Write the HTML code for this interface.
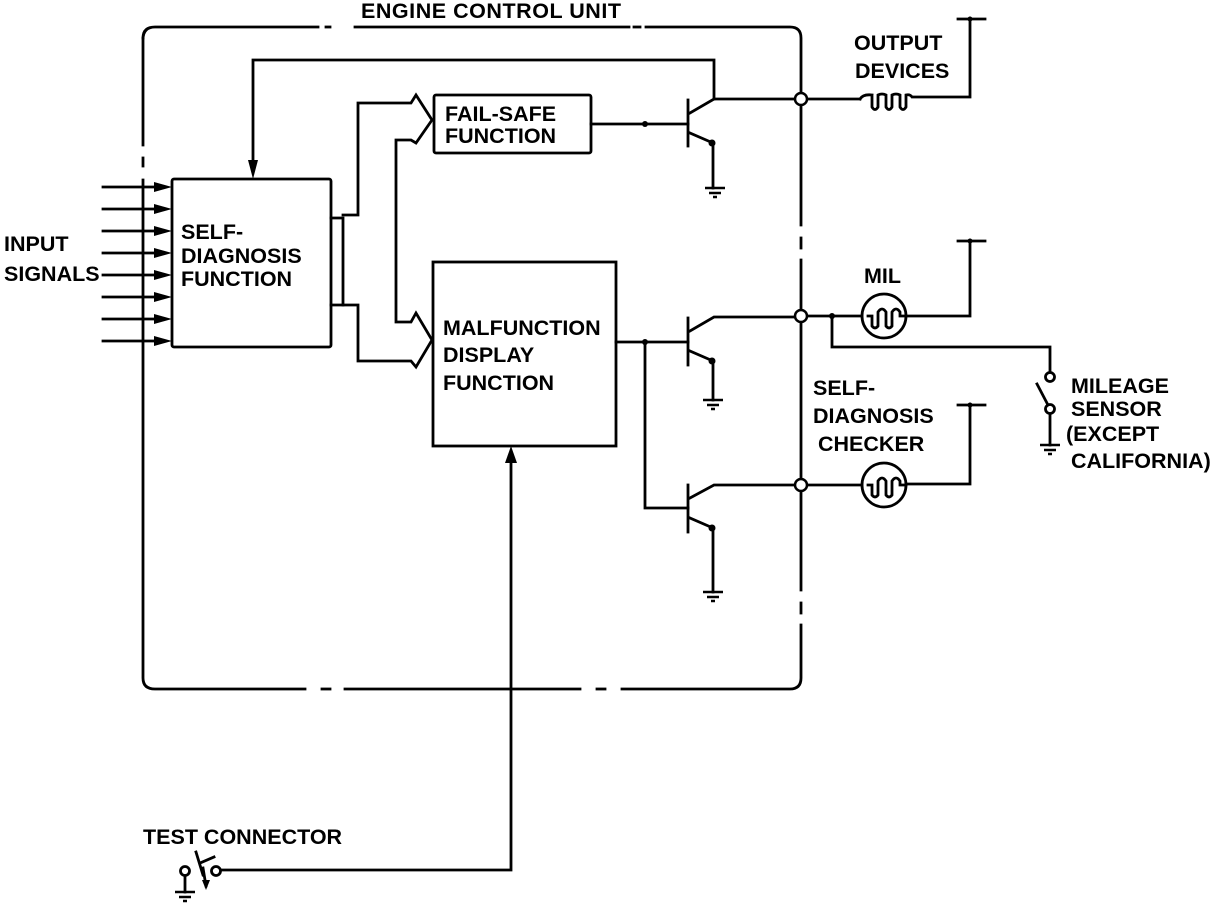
<!DOCTYPE html>
<html><head><meta charset="utf-8"><style>
html,body{margin:0;padding:0;background:#fff}
svg{display:block}
text{font-family:"Liberation Sans",Arial,sans-serif;font-weight:bold;font-size:21.5px;fill:#000}
</style></head><body>
<svg width="1216" height="904" viewBox="0 0 1216 904" xmlns="http://www.w3.org/2000/svg">
<defs>
<g id="gnd" stroke="#000" stroke-width="2.5" fill="none">
<line x1="-10" y1="0" x2="10" y2="0"/><line x1="-6" y1="5" x2="6" y2="5"/><line x1="-2" y1="9" x2="2" y2="9"/>
</g>
</defs>
<g stroke="#000" stroke-width="2.8" fill="none" stroke-linecap="square">
<!-- ECU box -->
<path d="M143,38 Q143,27 155,27 L318,27"/>
<line x1="326" y1="27" x2="330" y2="27"/>
<line x1="355" y1="27" x2="629" y2="27"/>
<line x1="634" y1="27" x2="640" y2="27"/>
<path d="M646,27 L790,27 Q801,27 801,38 L801,225"/>
<line x1="801" y1="238" x2="801" y2="248"/>
<path d="M801,260 L801,590"/>
<line x1="801" y1="603" x2="801" y2="613"/>
<path d="M801,625 L801,678 Q801,689 790,689 L622,689"/>
<line x1="605" y1="689" x2="597" y2="689"/>
<line x1="580" y1="689" x2="345" y2="689"/>
<line x1="330" y1="689" x2="322" y2="689"/>
<path d="M305,689 L155,689 Q143,689 143,678 L143,180"/>
<line x1="143" y1="166" x2="143" y2="158"/>
<line x1="143" y1="145" x2="143" y2="38"/>
<rect x="172" y="179" width="159" height="168" rx="2"/>
<rect x="434" y="95" width="157" height="58" rx="2"/>
<rect x="433" y="262" width="183" height="184"/>
<line x1="103" y1="187" x2="160" y2="187"/>
<line x1="103" y1="209" x2="160" y2="209"/>
<line x1="103" y1="231" x2="160" y2="231"/>
<line x1="103" y1="253" x2="160" y2="253"/>
<line x1="103" y1="275" x2="160" y2="275"/>
<line x1="103" y1="297" x2="160" y2="297"/>
<line x1="103" y1="319" x2="160" y2="319"/>
<line x1="103" y1="341" x2="160" y2="341"/>
<path d="M714,99 L714,60 L253,60 L253,165"/>
<path d="M331,218 L343,218 L343,305 L331,305"/>
<path d="M343,215 L358,215 L358,103 L411,103 L416,95 L432,120 L416,143 L411,140 L396,140 L396,322 L411,322 L416,313 L432,340 L416,367 L411,361 L358,361 L358,305 L343,305"/>
<path d="M222,870 L511,870 L511,462"/>
<line x1="688" y1="100" x2="688" y2="146"/>
<path d="M591,124 L688,124"/>
<path d="M690,113 L714,99 L794,99"/>
<path d="M690,133 L713,143 L713,188"/>
<line x1="688" y1="318" x2="688" y2="365"/>
<path d="M616,342 L688,342"/>
<path d="M690,331 L714,317 L794,317"/>
<path d="M690,351 L713,361 L713,400"/>
<path d="M645,342 L645,508 L688,508"/>
<line x1="688" y1="485" x2="688" y2="532"/>
<path d="M690,498 L714,485 L794,485"/>
<path d="M690,518 L713,528 L713,592"/>
<path d="M808,99 L860,99"/>
<path d="M860,99 Q863,94 872,95 M872,95 L872,107 Q875,112 878,107 L878,95 Q882,93 886,95 L886,107 Q889,112 892,107 L892,95 Q896,93 900,95 L900,107 Q903,112 906,107 L906,95 Q910,94 912,97 L970,97 L970,19"/>
<line x1="958" y1="19" x2="985" y2="19"/>
<path d="M808,316 L862,316"/>
<circle cx="884" cy="316" r="22"/>
<path d="M868,316 L872,316 L872,326 Q875,330 878,326 L878,312 Q882,306 886,312 L886,326 Q889,330 892,326 L892,312 Q896,306 900,312 L900,316 L906,316"/>
<path d="M906,316 L970,316 L970,241"/>
<line x1="958" y1="241" x2="985" y2="241"/>
<path d="M832,316 L832,347 L1050,347 L1050,372"/>
<circle cx="1050" cy="377" r="4.5"/>
<circle cx="1050" cy="409" r="4.5"/>
<line x1="1037" y1="384" x2="1048" y2="405"/>
<line x1="1050" y1="414" x2="1050" y2="445"/>
<path d="M808,485 L862,485"/>
<circle cx="884" cy="485" r="22"/>
<path d="M868,485 L872,485 L872,495 Q875,499 878,495 L878,481 Q882,475 886,481 L886,495 Q889,499 892,495 L892,481 Q896,475 900,481 L900,485 L906,485"/>
<path d="M906,484 L970,484 L970,405"/>
<line x1="958" y1="405" x2="985" y2="405"/>
<circle cx="185" cy="871" r="4.5"/>
<circle cx="216" cy="871" r="4.5"/>
<line x1="185" y1="876" x2="185" y2="892"/>
<line x1="196" y1="852" x2="203" y2="875"/>
<line x1="200" y1="863" x2="214" y2="857"/>
<path d="M203,868 L206,886"/>
</g>
<g fill="#000" stroke="none">
<polygon points="172,187 154,182 154,192"/>
<polygon points="172,209 154,204 154,214"/>
<polygon points="172,231 154,226 154,236"/>
<polygon points="172,253 154,248 154,258"/>
<polygon points="172,275 154,270 154,280"/>
<polygon points="172,297 154,292 154,302"/>
<polygon points="172,319 154,314 154,324"/>
<polygon points="172,341 154,336 154,346"/>
<polygon points="253,179 248,160 258,160"/>
<polygon points="511,446 505,463 517,463"/>
<polygon points="206,890 202,880 210,880"/>
<circle cx="645" cy="124" r="3"/>
<circle cx="645" cy="342" r="3"/>
<circle cx="832" cy="316" r="3"/>
<circle cx="712" cy="143" r="3.5"/>
<circle cx="712" cy="361" r="3.5"/>
<circle cx="712" cy="528" r="3.5"/>
<circle cx="970" cy="19" r="2.5"/>
<circle cx="970" cy="241" r="2.5"/>
<circle cx="970" cy="405" r="2.5"/>
</g>
<g fill="#fff" stroke="#000" stroke-width="2.5">
<circle cx="801" cy="99" r="6"/>
<circle cx="801" cy="316" r="6"/>
<circle cx="801" cy="485" r="6"/>
</g>
<use href="#gnd" x="715" y="188"/>
<use href="#gnd" x="713" y="400"/>
<use href="#gnd" x="713" y="592"/>
<use href="#gnd" x="1050" y="445"/>
<use href="#gnd" x="185" y="892"/>
<text x="361" y="18" textLength="260">ENGINE CONTROL UNIT</text>
<text x="854" y="50">OUTPUT</text>
<text x="855" y="78">DEVICES</text>
<text x="445" y="121">FAIL-SAFE</text>
<text x="445" y="143">FUNCTION</text>
<text x="181" y="239">SELF-</text>
<text x="181" y="263">DIAGNOSIS</text>
<text x="181" y="286">FUNCTION</text>
<text x="4" y="251">INPUT</text>
<text x="4" y="281">SIGNALS</text>
<text x="443" y="335">MALFUNCTION</text>
<text x="443" y="362">DISPLAY</text>
<text x="443" y="390">FUNCTION</text>
<text x="864" y="283">MIL</text>
<text x="813" y="395">SELF-</text>
<text x="813" y="423">DIAGNOSIS</text>
<text x="818" y="451">CHECKER</text>
<text x="1071" y="393">MILEAGE</text>
<text x="1071" y="416">SENSOR</text>
<text x="1066" y="441">(EXCEPT</text>
<text x="1071" y="468">CALIFORNIA)</text>
<text x="143" y="844">TEST CONNECTOR</text>
</svg>
</body></html>
